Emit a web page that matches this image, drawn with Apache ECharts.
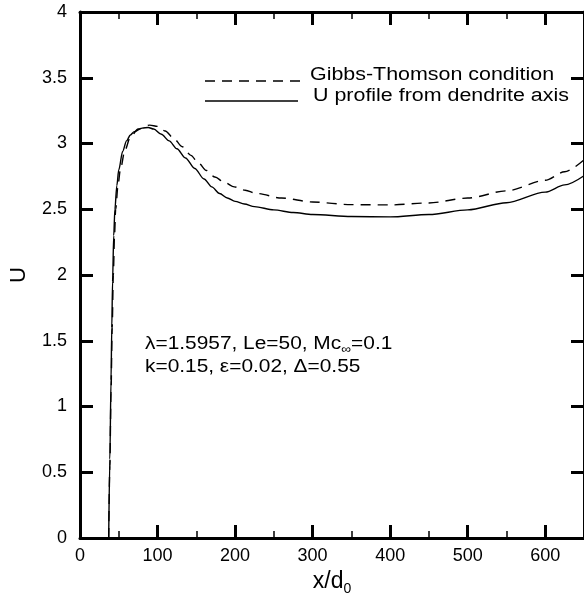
<!DOCTYPE html>
<html>
<head>
<meta charset="utf-8">
<script src="https://cdn.jsdelivr.net/npm/echarts@6/dist/echarts.min.js"></script>
<style>
html,body{margin:0;padding:0;background:#fff;}
#chart{width:584px;height:601px;}
</style>
</head>
<body>
<div id="chart"></div>
<script>
// Data
var solidX = [37, 38.5, 40, 41, 42, 43.5, 45, 47.5, 50, 55, 60, 65, 70, 80, 88, 95, 105, 115, 125, 136, 148, 160, 170, 180, 190, 200, 212, 225, 250, 275, 300, 350, 400, 450, 500, 550, 600, 625, 650];
var solidU = [0, 0.6, 1.2, 1.6, 1.95, 2.3, 2.5, 2.68, 2.8, 2.94, 3.02, 3.065, 3.09, 3.117, 3.122, 3.11, 3.07, 3.02, 2.96, 2.89, 2.81, 2.73, 2.67, 2.62, 2.585, 2.56, 2.54, 2.52, 2.495, 2.475, 2.46, 2.445, 2.442, 2.46, 2.495, 2.55, 2.63, 2.685, 2.755];
var dashX = [37, 38.5, 40, 41.5, 43, 44.5, 46, 49, 52, 58, 65, 75, 90, 100, 110, 120, 132, 143, 153, 163, 174, 186, 199, 213, 228, 260, 300, 350, 400, 450, 500, 550, 600, 625, 650];
var dashU = [0, 0.55, 1.1, 1.6, 2.0, 2.3, 2.5, 2.68, 2.8, 2.95, 3.05, 3.11, 3.14, 3.13, 3.095, 3.045, 2.975, 2.91, 2.85, 2.795, 2.745, 2.705, 2.67, 2.645, 2.62, 2.585, 2.555, 2.535, 2.533, 2.548, 2.585, 2.64, 2.72, 2.785, 2.875];
var xTicks = [0, 100, 200, 300, 400, 500, 600];
var yTicks = [0, 0.5, 1, 1.5, 2, 2.5, 3, 3.5, 4];
var legendNames = ['Gibbs-Thomson condition', 'U profile from dendrite axis'];

function pairs(xs, ys){ return xs.map(function(x,i){ return [x, ys[i]]; }); }

var FONT = 'Liberation Sans, Arial, Helvetica, sans-serif';
var chart = echarts.init(document.getElementById('chart'), null, {renderer:'canvas'});
var axisCommon = {
  axisLine:{show:true, onZero:false, lineStyle:{color:'#000', width:3}},
  axisTick:{show:true, inside:true, length:13, lineStyle:{color:'#000', width:3}},
  minorTick:{show:false},
  splitLine:{show:false}
};
var option = {
  animation:false,
  backgroundColor:'#fff',
  grid:{left:68, top:12, width:517, height:532, containLabel:false},
  xAxis:[
    Object.assign({}, axisCommon, {
      type:'value', min:xTicks[0], max:650, interval:xTicks[1]-xTicks[0], position:'bottom',
      minorTick:{show:true, splitNumber:2, length:7, lineStyle:{color:'#000', width:1.5}},
      axisLabel:{show:true, color:'#000', fontSize:18, fontFamily:FONT, margin:9, showMaxLabel:false},
      name:'{a|x/d}{s|0}', nameLocation:'middle', nameGap:30,
      nameTextStyle:{rich:{a:{fontSize:23, fontFamily:FONT, color:'#000'}, s:{fontSize:14, fontFamily:FONT, color:'#000', padding:[14,0,0,0]}}}
    }),
    Object.assign({}, axisCommon, {
      type:'value', min:xTicks[0], max:650, interval:xTicks[1]-xTicks[0], position:'top',
      minorTick:{show:true, splitNumber:2, length:7, lineStyle:{color:'#000', width:1.5}},
      axisLabel:{show:false}
    })
  ],
  yAxis:[
    Object.assign({}, axisCommon, {
      type:'value', min:yTicks[0], max:yTicks[yTicks.length-1], interval:yTicks[1]-yTicks[0], position:'left',
      axisLabel:{show:true, color:'#000', fontSize:18, fontFamily:FONT, margin:13},
      name:'U', nameLocation:'middle', nameGap:50, nameRotate:90,
      nameTextStyle:{fontSize:22, fontFamily:FONT, color:'#000'}
    }),
    Object.assign({}, axisCommon, {
      type:'value', min:yTicks[0], max:yTicks[yTicks.length-1], interval:yTicks[1]-yTicks[0], position:'right',
      axisLabel:{show:false}
    })
  ],
  series:[
    {
      name:legendNames[0], type:'line', data:pairs(dashX, dashU), showSymbol:false,
      smooth:0.3, smoothMonotone:'x',
      lineStyle:{color:'#000', width:1.4, type:[10,7]}
    },
    {
      name:legendNames[1], type:'line', data:pairs(solidX, solidU), showSymbol:false,
      smooth:0.3, smoothMonotone:'x',
      lineStyle:{color:'#000', width:1.4, type:'solid'}
    }
  ],
  graphic:[
    {type:'line', shape:{x1:205, y1:81, x2:300, y2:81}, style:{stroke:'#000', lineWidth:1.4, lineDash:[10,7]}},
    {type:'text', x:310, y:75, scaleX:1.19, style:{text:legendNames[0], font:'18px ' + FONT, fill:'#000', verticalAlign:'middle'}},
    {type:'line', shape:{x1:205, y1:101, x2:298, y2:101}, style:{stroke:'#000', lineWidth:1.4}},
    {type:'text', x:313, y:96, scaleX:1.19, style:{text:legendNames[1], font:'18px ' + FONT, fill:'#000', verticalAlign:'middle'}},
    {type:'text', x:145, y:333, scaleX:1.16, style:{
      text:'{t|λ=1.5957, Le=50, Mc}{s|∞}{t|=0.1}\n{t|k=0.15, ε=0.02, Δ=0.55}',
      rich:{t:{fontSize:18, fontFamily:FONT, fill:'#000', color:'#000', lineHeight:23}, s:{fontSize:12, fontFamily:FONT, fill:'#000', color:'#000', padding:[11,0,0,0]}}
    }}
  ]
};
chart.setOption(option);
</script>
</body>
</html>
